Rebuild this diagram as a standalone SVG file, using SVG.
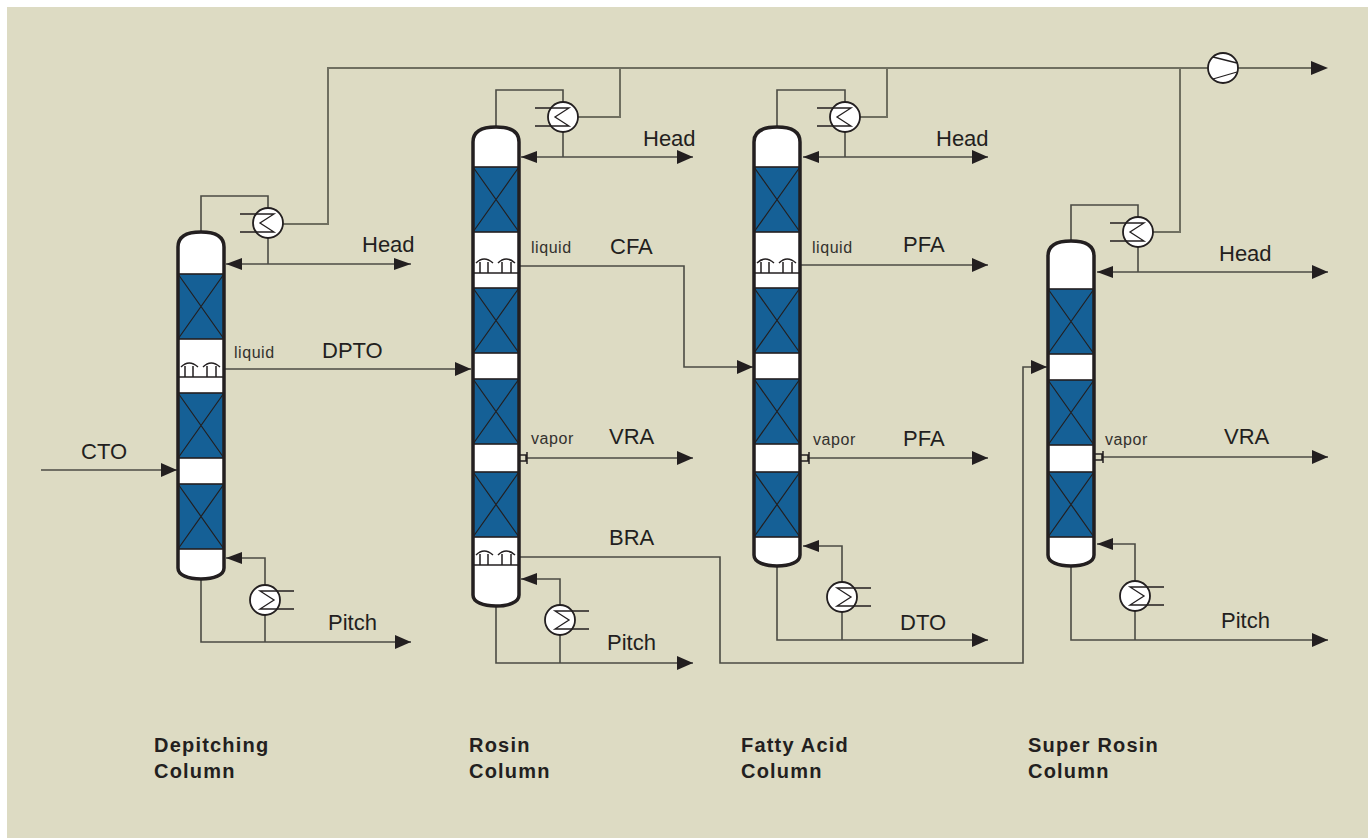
<svg xmlns="http://www.w3.org/2000/svg" xmlns:xlink="http://www.w3.org/1999/xlink" width="1368" height="838" viewBox="0 0 1368 838">
<style>
text{font-family:"Liberation Sans",Arial,sans-serif;fill:#231f20}
.l{font-size:22px}
.s{font-size:16px;letter-spacing:.55px;fill:#33312e}
.b{font-size:20px;font-weight:bold;letter-spacing:1.2px}
.c{fill:none;stroke:#4b4b44;stroke-width:1.6}
.t{fill:none;stroke:#6f6f60;stroke-width:2}
.a{fill:none;stroke:#4b4b44;stroke-width:1.6;marker-end:url(#ah)}
.shell{fill:none;stroke:#231f20;stroke-width:3.5}
.w{fill:#fff}
.p{fill:#156096;stroke:#231f20;stroke-width:1.6}
.x{stroke:#231f20;stroke-width:1.2;fill:none}
.tr{stroke:#231f20;stroke-width:1.5;fill:none}
.hx{fill:#fff;stroke:#231f20;stroke-width:1.8}
.z{fill:none;stroke:#231f20;stroke-width:1.3}
</style>
<defs>
<marker id="ah" markerUnits="userSpaceOnUse" markerWidth="17" markerHeight="14" refX="16" refY="7" orient="auto"><path d="M0 0L16 7L0 14Z" fill="#231f20"/></marker>
<g id="pk"><rect class="p" x="-23" y="0" width="46" height="65"/><path class="x" d="M-23 0L23 65M23 0L-23 65"/></g>
<g id="tray"><path class="tr" d="M-23 0H23M-16 0V-11M-8 0V-11M6 0V-11M15 0V-11M-20-10Q-12-18-3-10M2-10Q10-18 19-10"/></g>
<g id="cond"><circle class="hx" r="15"/><path class="z" d="M-28-9H6L-8 0L6 9H-28"/></g>
<g id="reb"><circle class="hx" r="15"/><path class="z" d="M29-9H-5L9 0L-5 9H29"/></g>
<g id="noz"><path class="tr" d="M0-3H7V3H0M8-6V6"/></g>
</defs>
<rect width="1368" height="838" fill="#fff"/>
<rect x="7" y="7" width="1361" height="831" fill="#dddbc3"/>
<g id="connectors">
<path class="t" d="M283 224H328V68H1208M620 68V117H578M887 68V117H860M1180 68V232H1153"/>
<path class="t" d="M1238 68H1312"/>
<path d="M1311 61L1328 68L1311 75Z" fill="#231f20"/>
<path class="c" d="M201 232V196H268V208"/>
<path class="c" d="M268 238V264"/>
<path d="M226 264H411" class="c"/>
<path d="M226 264L242 258V270ZM411 264L394 258V270Z" fill="#231f20"/>
<path class="c" d="M265 585V558H226"/><path d="M226 558L242 552V564Z" fill="#231f20"/>
<path class="a" d="M201 580V642H411"/><path class="c" d="M265 615V642"/>
<path class="a" d="M41 470H177"/>
<path class="a" d="M224 369H471"/>
<path class="c" d="M496 127V90H563V102M563 132V157"/>
<path class="a" d="M521 157H693"/><path d="M521 157L537 151V163Z" fill="#231f20"/>
<path class="a" d="M519 266H684V367H753"/>
<path class="a" d="M527 458H693"/>
<path class="a" d="M519 557H720V663H1023V367H1047"/>
<path class="c" d="M560 605V579H521"/><path d="M521 579L537 573V585Z" fill="#231f20"/>
<path class="a" d="M496 606V663H693"/><path class="c" d="M560 635V663"/>
<path class="c" d="M777 127V90H845V102M845 132V157"/>
<path class="a" d="M803 157H988"/><path d="M803 157L819 151V163Z" fill="#231f20"/>
<path class="a" d="M801 265H988"/>
<path class="a" d="M809 458H988"/>
<path class="c" d="M842 582V546H803"/><path d="M803 546L819 540V552Z" fill="#231f20"/>
<path class="a" d="M777 566V640H988"/><path class="c" d="M842 612V640"/>
<path class="c" d="M1071 241V205H1138V217M1138 247V272"/>
<path class="a" d="M1097 272H1328"/><path d="M1097 272L1113 266V278Z" fill="#231f20"/>
<path class="a" d="M1103 457H1328"/>
<path class="c" d="M1135 581V544H1097"/><path d="M1097 544L1113 538V550Z" fill="#231f20"/>
<path class="a" d="M1071 566V640H1328"/><path class="c" d="M1135 611V640"/>
</g>
<g id="depitching-column">
<path class="w" d="M178 247C178 236 188 232 201 232S224 236 224 247V568C224 575 214 579 201 579S178 575 178 568Z"/>
<use href="#pk" x="201" y="274"/><use href="#pk" x="201" y="393"/><use href="#pk" x="201" y="484"/>
<use href="#tray" x="201" y="377"/>
<path class="shell" d="M178 247C178 236 188 232 201 232S224 236 224 247V568C224 575 214 579 201 579S178 575 178 568Z"/>
</g>
<g id="rosin-column">
<path class="w" d="M473 142C473 131 483 127 496 127S519 131 519 142V595C519 602 509 606 496 606S473 602 473 595Z"/>
<use href="#pk" x="496" y="167"/><use href="#pk" x="496" y="288"/><use href="#pk" x="496" y="379"/><use href="#pk" x="496" y="472"/>
<use href="#tray" x="496" y="273"/><use href="#tray" x="496" y="565"/>
<path class="shell" d="M473 142C473 131 483 127 496 127S519 131 519 142V595C519 602 509 606 496 606S473 602 473 595Z"/>
<use href="#noz" x="519" y="458"/>
</g>
<g id="fatty-acid-column">
<path class="w" d="M754 142C754 131 764 127 777 127S800 131 800 142V555C800 562 790 566 777 566S754 562 754 555Z"/>
<use href="#pk" x="777" y="167"/><use href="#pk" x="777" y="288"/><use href="#pk" x="777" y="379"/><use href="#pk" x="777" y="472"/>
<use href="#tray" x="777" y="273"/>
<path class="shell" d="M754 142C754 131 764 127 777 127S800 131 800 142V555C800 562 790 566 777 566S754 562 754 555Z"/>
<use href="#noz" x="801" y="458"/>
</g>
<g id="super-rosin-column">
<path class="w" d="M1048 256C1048 245 1058 241 1071 241S1094 245 1094 256V555C1094 562 1084 566 1071 566S1048 562 1048 555Z"/>
<use href="#pk" x="1071" y="289"/><use href="#pk" x="1071" y="380"/><use href="#pk" x="1071" y="472"/>
<path class="shell" d="M1048 256C1048 245 1058 241 1071 241S1094 245 1094 256V555C1094 562 1084 566 1071 566S1048 562 1048 555Z"/>
<use href="#noz" x="1095" y="457"/>
</g>
<g id="exchangers">
<use href="#cond" x="268" y="223"/><use href="#reb" x="265" y="600"/>
<use href="#cond" x="563" y="117"/><use href="#reb" x="560" y="620"/>
<use href="#cond" x="845" y="117"/><use href="#reb" x="842" y="597"/>
<use href="#cond" x="1138" y="232"/><use href="#reb" x="1135" y="596"/>
</g>
<g id="pump"><circle class="hx" cx="1223" cy="68" r="15"/><path class="z" d="M1213 57L1237 63M1213 79L1237 72"/></g>
<g id="labels">
<text class="l" x="81" y="459">CTO</text>
<text class="l" x="362" y="252">Head</text>
<text class="s" x="234" y="358">liquid</text>
<text class="l" x="322" y="358">DPTO</text>
<text class="l" x="328" y="630">Pitch</text>
<text class="l" x="643" y="146">Head</text>
<text class="s" x="531" y="253">liquid</text>
<text class="l" x="610" y="254">CFA</text>
<text class="s" x="531" y="444">vapor</text>
<text class="l" x="609" y="444">VRA</text>
<text class="l" x="609" y="545">BRA</text>
<text class="l" x="607" y="650">Pitch</text>
<text class="l" x="936" y="146">Head</text>
<text class="s" x="812" y="253">liquid</text>
<text class="l" x="903" y="252">PFA</text>
<text class="s" x="813" y="445">vapor</text>
<text class="l" x="903" y="446">PFA</text>
<text class="l" x="900" y="630">DTO</text>
<text class="l" x="1219" y="261">Head</text>
<text class="s" x="1105" y="445">vapor</text>
<text class="l" x="1224" y="444">VRA</text>
<text class="l" x="1221" y="628">Pitch</text>
<text class="b" x="154" y="752">Depitching</text><text class="b" x="154" y="778">Column</text>
<text class="b" x="469" y="752">Rosin</text><text class="b" x="469" y="778">Column</text>
<text class="b" x="741" y="752">Fatty Acid</text><text class="b" x="741" y="778">Column</text>
<text class="b" x="1028" y="752">Super Rosin</text><text class="b" x="1028" y="778">Column</text>
</g>
</svg>
